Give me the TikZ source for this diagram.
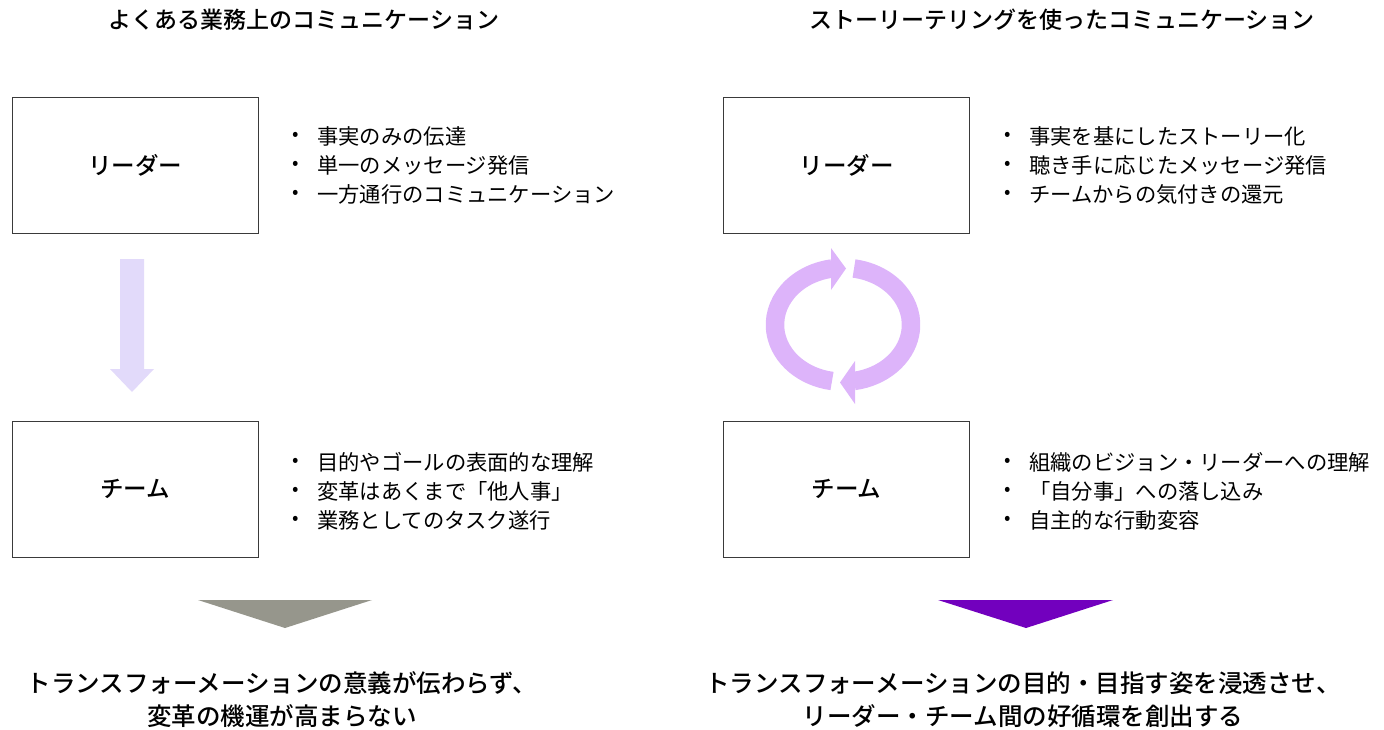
\documentclass[tikz,border=0pt]{standalone}
\usepackage{fontspec}
\setmainfont{Noto Sans CJK JP}[BoldFont={Noto Sans CJK JP Medium}]
\definecolor{boxline}{HTML}{3A3A3A}
\definecolor{lavender}{HTML}{E2DAFA}
\definecolor{cyclec}{HTML}{DDB4FA}
\definecolor{graytri}{HTML}{96968C}
\definecolor{purpletri}{HTML}{7200BE}
\begin{document}
\begin{tikzpicture}[x=1pt,y=-1pt,
  box/.style={draw=boxline, line width=0.8pt, minimum width=246pt, minimum height=136pt, inner sep=0pt, font=\fontsize{23.5}{26}\selectfont\bfseries},
  ttl/.style={inner sep=0pt, font=\fontsize{23}{26}\selectfont\bfseries},
  item/.style={anchor=west, inner sep=0pt, font=\fontsize{21.3}{24}\selectfont},
  dot/.style={inner sep=0pt, font=\fontsize{19}{20}\selectfont},
  concl/.style={align=center, inner sep=0pt, font=\fontsize{24.5}{33}\selectfont\bfseries}]
\useasboundingbox (0,0) rectangle (1384,729);

% titles
\node[ttl] (t1) at (304,20) {よくある業務上のコミュニケーション};
\node[ttl] (t2) at (1062,20) {ストーリーテリングを使ったコミュニケーション};

% boxes
\node[box] (lr) at (135,165) {リーダー};
\node[box] (lt) at (135,489) {チーム};
\node[box] (rr) at (846.5,165) {リーダー};
\node[box] (rt) at (846.5,489) {チーム};

% left bullets
\node[dot] (d1) at (296,136) {•};
\node[item] (i1) at (317,136) {事実のみの伝達};
\node[dot] (d2) at (296,165) {•};
\node[item] (i2) at (317,165) {単一のメッセージ発信};
\node[dot] (d3) at (296,194) {•};
\node[item] (i3) at (317,194) {一方通行のコミュニケーション};
\node[dot] (d4) at (296,462) {•};
\node[item] (i4) at (317,462) {目的やゴールの表面的な理解};
\node[dot] (d5) at (296,491) {•};
\node[item] (i5) at (317,491) {変革はあくまで「他人事」};
\node[dot] (d6) at (296,520) {•};
\node[item] (i6) at (317,520) {業務としてのタスク遂行};

% right bullets
\node[dot] (e1) at (1008,136) {•};
\node[item] (j1) at (1029,136) {事実を基にしたストーリー化};
\node[dot] (e2) at (1008,165) {•};
\node[item] (j2) at (1029,165) {聴き手に応じたメッセージ発信};
\node[dot] (e3) at (1008,194) {•};
\node[item] (j3) at (1029,194) {チームからの気付きの還元};
\node[dot] (e4) at (1008,462) {•};
\node[item] (j4) at (1029,462) {組織のビジョン・リーダーへの理解};
\node[dot] (e5) at (1008,491) {•};
\node[item] (j5) at (1029,491) {「自分事」への落し込み};
\node[dot] (e6) at (1008,520) {•};
\node[item] (j6) at (1029,520) {自主的な行動変容};

% left block arrow
\fill[lavender] (120,259) -- (144,259) -- (144,369) -- (154,369) -- (132,392) -- (110,369) -- (120,369) -- cycle;

% cycle arrows
\draw[cyclec, line width=18.5pt] (832,268.5) arc[start angle=99.3, end angle=260.7, x radius=68pt, y radius=57pt];
\fill[cyclec] (831,248) -- (846,268.5) -- (831,290) -- cycle;
\draw[cyclec, line width=18.5pt] (854,268.5) arc[start angle=80.7, end angle=-80.7, x radius=68pt, y radius=57pt];
\fill[cyclec] (855,361) -- (840,382.5) -- (855,404) -- cycle;

% triangles
\fill[graytri] (198,600) -- (372,600) -- (285,628) -- cycle;
\fill[purpletri] (938,600) -- (1113,600) -- (1026,628) -- cycle;

% conclusions
\node[concl] (c1) at (282,699.5) {トランスフォーメーションの意義が伝わらず、\\変革の機運が高まらない};
\node[concl] (c2) at (1023,699.5) {トランスフォーメーションの目的・目指す姿を浸透させ、\\リーダー・チーム間の好循環を創出する};
\end{tikzpicture}
\end{document}
